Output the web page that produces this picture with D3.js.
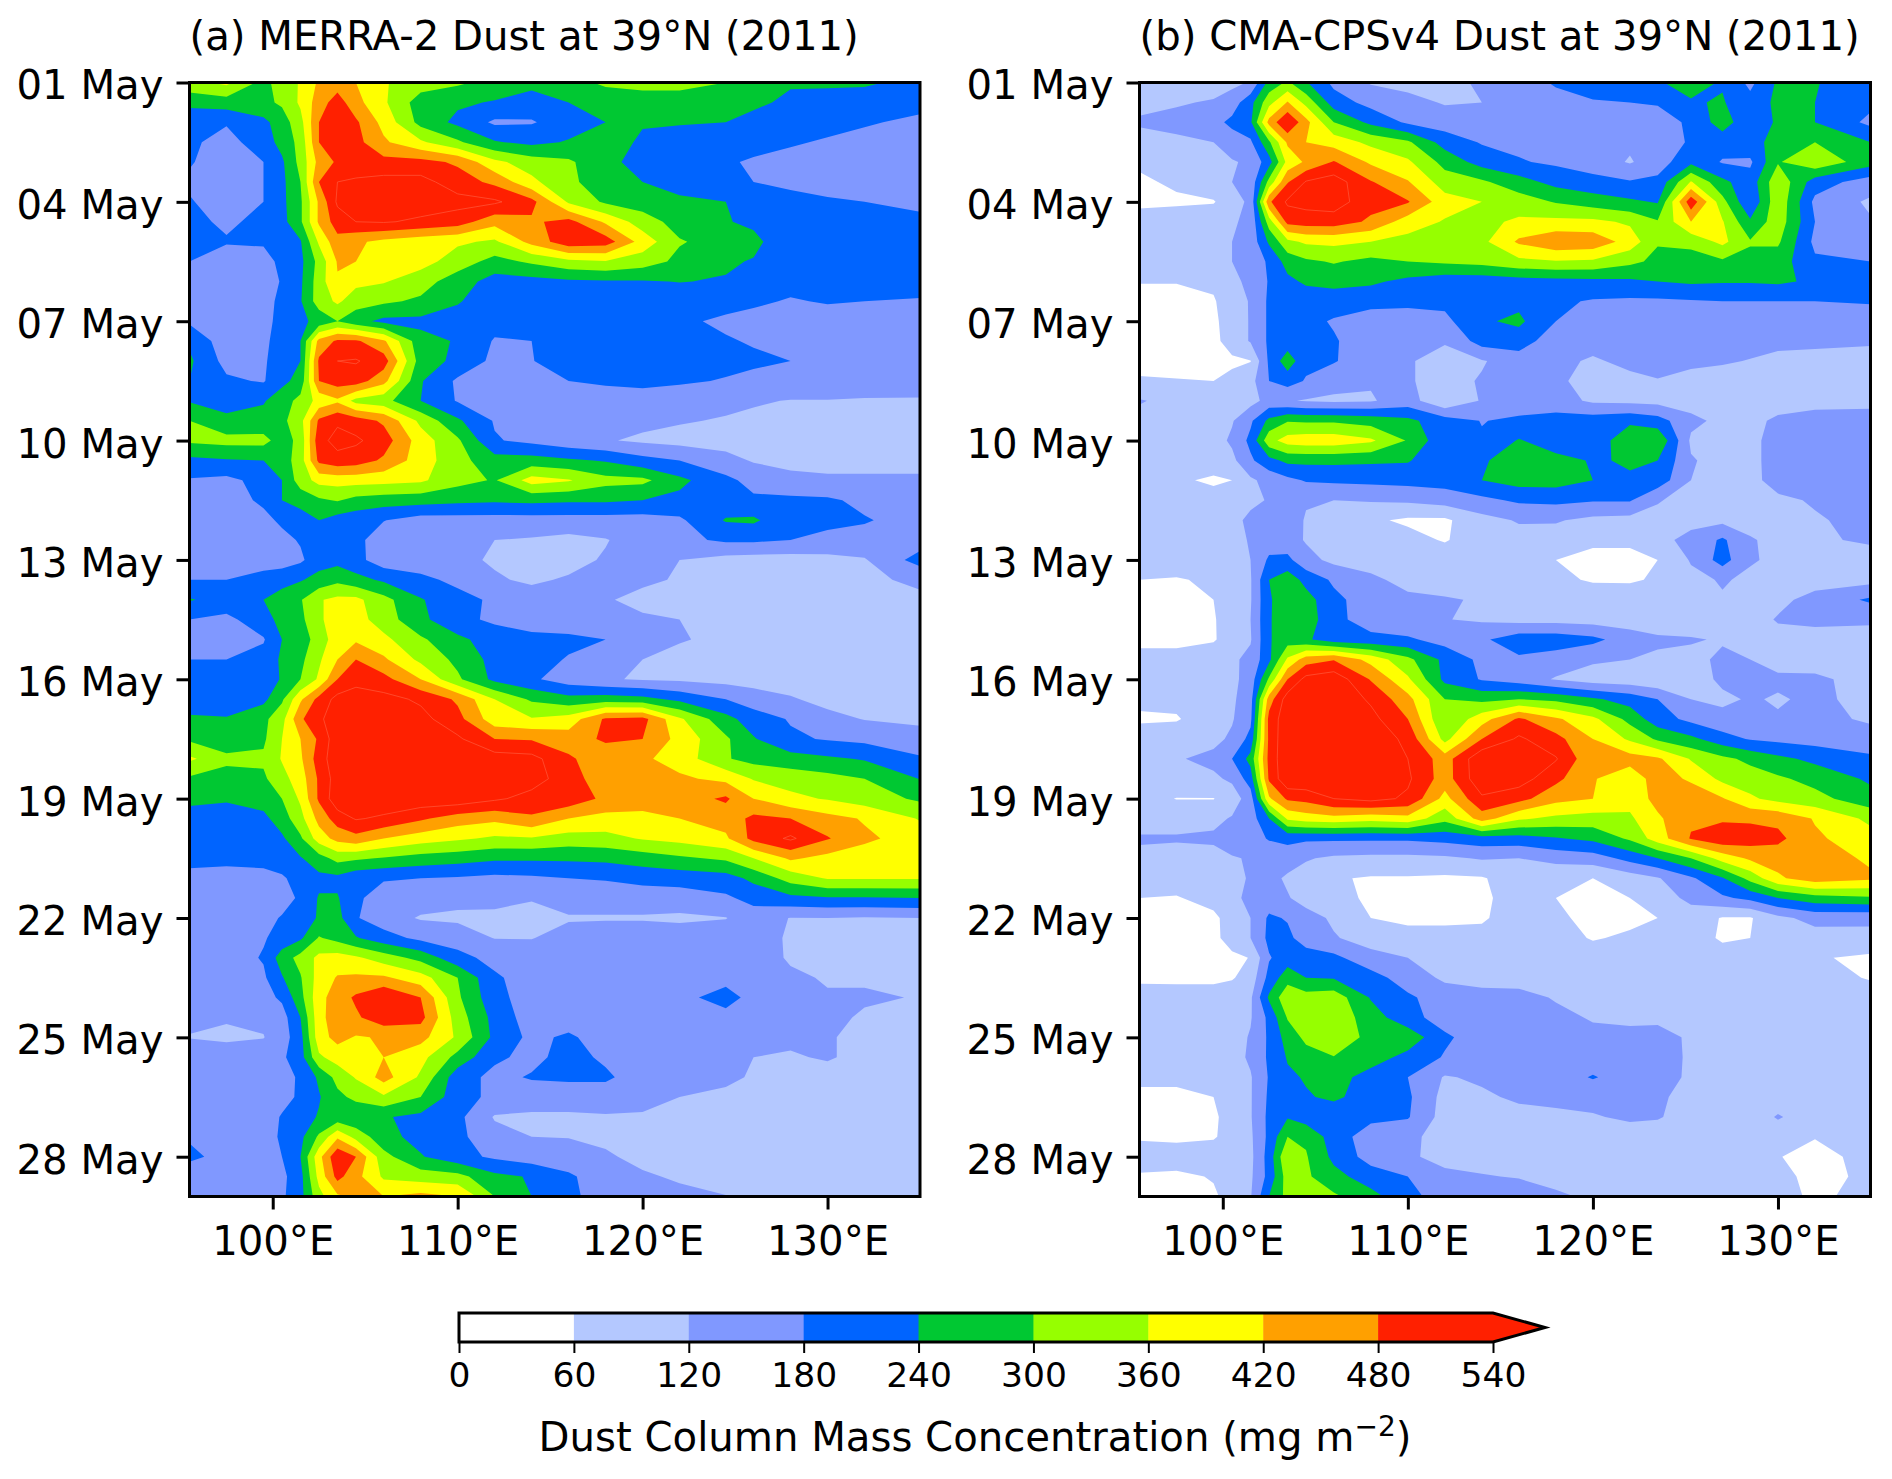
<!DOCTYPE html>
<html><head><meta charset="utf-8">
<script src="https://cdn.jsdelivr.net/npm/d3@7/dist/d3.min.js"></script>
<style>html,body{margin:0;padding:0;background:#fff}svg{display:block}text{font-family:"DejaVu Sans",sans-serif;fill:#000}</style>
</head><body><svg id="c" width="1892" height="1479"></svg>
<script>
const levels=[0,60,120,180,240,300,360,420,480,540];
const bandColors=["#ffffff","#b4c8ff","#8098ff","#0064ff","#00c832","#96ff00","#ffff00","#ffa000","#ff2000"];
const dateTicks=[0,3,6,9,12,15,18,21,24,27];
const lonTicks=[100,110,120,130];
const cbTicks=[0,60,120,180,240,300,360,420,480,540];
const titleA="(a) MERRA-2 Dust at 39°N (2011)", titleB="(b) CMA-CPSv4 Dust at 39°N (2011)";
const lonsA=[95.5,97.5,99.5,100.5,101.5,102.5,103.5,104.5,106,108,110,112,114,116,118,120,122,124.5,126,128,130,132,135];
const lonsB=[95.5,97.5,99.5,100.5,101.5,102.5,103.5,104.5,106,108,110,112,114,116,118,120,122,123.5,125.3,127,128.5,130,132,135];
const rowsA=[
[340,375,280,330,365,430,450,420,365,330,310,280,260,280,310,320,320,300,270,245,250,250,220],
[260,270,285,310,370,450,510,440,370,270,250,235,210,240,265,270,270,265,250,230,215,205,195],
[190,185,225,270,340,480,530,490,400,280,225,170,175,210,240,245,245,240,225,205,195,185,170],
[190,160,210,260,320,480,520,500,430,370,310,245,225,245,270,230,210,205,195,185,175,165,150],
[185,150,180,230,320,440,490,520,500,500,470,375,330,310,255,220,205,185,175,165,155,150,145],
[170,150,180,225,300,480,540,545,560,560,510,465,375,310,275,240,220,200,180,170,165,160,150],
[185,150,180,225,290,430,550,560,570,570,560,550,500,350,290,270,250,240,215,195,185,180,170],
[195,170,195,220,290,430,510,540,545,530,510,440,470,500,410,330,275,245,225,215,200,190,190],
[190,185,185,220,235,370,460,430,405,385,370,350,440,520,510,395,305,275,260,185,180,180,180],
[180,150,165,190,225,320,425,420,405,385,330,280,310,345,355,330,285,250,235,195,185,185,185],
[180,150,150,185,230,330,415,375,365,325,270,215,220,230,235,235,242,235,210,200,195,190,190],
[175,150,165,190,235,330,370,330,310,290,245,205,205,200,200,200,200,200,190,175,185,180,178],
[170,145,170,190,225,260,300,260,225,225,215,200,200,200,200,200,190,170,160,155,150,150,150],
[230,145,175,190,240,440,490,490,430,260,235,175,180,200,200,200,195,185,175,165,160,155,150],
[250,160,175,200,240,490,540,545,510,270,225,165,178,205,210,205,205,200,190,180,178,165,150],
[240,190,175,225,260,480,510,510,440,245,170,150,170,180,190,200,190,175,165,160,155,150,145],
[235,215,235,270,320,380,410,340,320,240,175,150,150,150,148,145,140,135,125,118,118,115,115],
[300,255,260,285,340,490,530,510,470,345,250,175,160,150,140,135,125,115,110,105,105,105,105],
[310,320,320,270,320,520,560,550,510,390,310,185,165,140,125,110,100,95,95,95,95,95,95],
[225,235,240,270,330,495,520,510,470,390,320,265,265,250,235,200,180,140,115,110,110,110,110],
[175,165,200,240,330,380,385,385,380,370,320,295,385,365,320,315,255,195,160,130,125,125,125],
[160,155,190,240,260,290,305,280,270,265,255,250,255,250,250,240,225,205,190,195,190,165,125],
[150,150,165,190,215,240,215,205,182,155,155,155,155,155,155,155,170,245,250,195,190,185,155],
[145,150,150,165,185,205,205,195,150,150,150,120,115,105,117,145,165,190,190,180,170,160,150],
[150,150,150,150,170,215,220,200,145,145,130,115,110,105,125,150,120,100,95,95,100,115,205],
[180,180,205,220,235,260,285,260,230,195,165,125,113,125,135,130,115,100,95,95,100,115,125],
[245,215,240,265,295,355,375,375,320,245,200,170,140,135,125,105,100,95,95,95,95,100,115],
[180,165,215,260,285,350,390,385,330,255,195,170,155,140,135,128,120,100,95,95,95,95,100],
[165,145,175,240,265,330,390,410,375,310,255,210,195,195,180,165,125,105,100,100,100,100,100],
[180,180,200,250,285,350,420,480,430,345,285,220,205,175,155,120,100,95,95,95,95,95,95],
[205,195,210,245,300,370,480,520,500,420,310,225,190,150,125,115,110,100,95,95,95,95,95],
[205,200,225,290,410,500,560,570,560,530,470,360,290,260,270,260,225,180,150,125,105,95,95],
[250,245,285,340,470,530,570,580,570,560,500,385,365,385,490,500,370,260,210,175,135,118,115],
[290,250,290,360,420,490,580,590,590,580,550,480,475,450,490,480,400,310,245,190,175,165,130],
[370,320,310,365,410,510,580,590,590,590,580,570,560,490,440,430,395,305,280,265,250,235,190],
[290,265,290,340,390,490,570,580,580,580,580,580,565,510,440,435,430,405,355,335,320,300,238],
[255,250,265,300,370,490,580,580,580,580,580,550,520,520,465,445,450,490,420,375,355,330,290],
[215,200,225,270,340,440,510,545,530,490,450,435,470,420,400,405,420,445,495,480,440,415,355],
[195,195,200,230,290,390,440,460,420,390,370,350,355,335,340,365,380,410,500,550,485,430,395],
[190,190,190,200,235,275,320,310,295,275,265,250,250,250,255,270,290,310,360,430,400,395,390],
[170,165,170,175,195,225,225,195,185,180,175,165,170,180,185,200,205,215,255,325,365,365,365],
[150,150,150,155,190,245,245,190,155,145,135,130,122,145,145,145,150,170,200,225,235,235,240],
[150,150,160,185,215,245,260,185,145,115,110,112,110,115,115,115,110,118,150,118,120,115,120],
[150,150,175,200,230,305,280,245,205,165,150,118,118,140,150,150,150,150,155,110,105,105,105],
[150,150,185,270,320,375,385,370,330,280,200,160,150,150,150,150,150,150,150,113,110,110,110],
[145,150,170,235,295,385,425,430,430,385,300,190,150,145,150,150,150,150,150,130,115,115,110],
[140,145,160,190,280,400,450,490,540,480,310,200,150,150,150,150,155,215,150,135,125,125,118],
[130,125,130,155,240,400,455,470,520,500,330,220,150,150,150,150,150,150,150,150,130,115,110],
[118,110,118,150,220,395,440,415,425,440,350,225,165,190,150,150,150,150,125,130,125,105,105],
[150,150,150,170,215,350,385,395,420,380,280,190,165,200,170,150,145,140,120,115,125,105,105],
[150,150,150,155,190,250,320,365,445,350,205,165,185,190,190,150,145,130,115,105,100,100,100],
[150,150,150,160,190,235,285,315,350,300,205,165,150,150,150,150,120,110,100,95,95,95,95],
[170,150,150,185,215,245,260,250,245,225,195,115,110,110,115,110,100,95,95,95,95,95,95],
[175,155,150,190,225,310,410,340,260,220,195,140,120,118,112,105,95,95,95,95,95,95,95],
[190,165,150,180,240,400,530,480,320,245,200,170,150,145,125,110,95,95,95,95,95,95,95],
[150,150,150,165,220,380,500,440,350,330,320,255,235,190,145,125,115,95,95,95,95,95,95],
[150,150,150,170,220,340,410,430,420,440,420,300,240,195,150,140,130,122,120,115,110,105,105]
];
const rowsB=[
[65,85,95,105,125,260,310,245,165,115,100,100,130,160,185,210,222,235,260,235,165,250,245,190],
[110,115,125,150,220,340,425,340,210,160,140,115,120,150,165,175,180,185,235,245,200,255,240,195],
[125,135,160,195,230,440,540,440,300,225,170,150,150,145,120,145,150,155,190,270,195,250,240,165],
[105,110,120,150,170,290,430,420,395,345,310,215,175,165,150,140,130,135,190,205,220,260,300,240],
[70,85,105,115,130,215,380,430,485,410,370,280,215,185,170,150,115,150,225,175,170,295,345,265],
[50,70,105,120,135,320,475,545,570,485,425,330,310,265,220,200,185,195,365,255,205,345,210,150],
[45,50,55,100,130,470,550,560,570,500,485,385,360,330,295,270,250,235,520,320,185,345,165,110],
[90,95,105,115,130,330,500,510,510,470,390,355,345,370,375,375,350,305,420,365,250,335,180,125],
[100,105,110,120,140,250,345,370,375,360,340,330,345,430,470,460,395,305,320,375,305,310,165,122],
[100,105,110,120,140,190,265,290,305,285,300,310,320,345,355,350,315,285,270,290,285,270,190,180],
[62,62,70,110,130,185,225,250,260,250,225,205,205,215,220,225,230,240,250,245,245,250,230,200],
[45,45,55,90,125,190,235,205,205,200,195,195,215,225,190,175,170,170,175,180,180,180,180,185],
[40,40,50,85,125,190,190,195,175,150,150,165,232,252,180,165,155,150,150,150,150,150,150,150],
[40,40,45,85,125,190,205,205,185,150,125,125,205,210,145,135,135,135,135,135,135,135,130,125],
[45,45,45,50,58,190,275,195,185,140,125,100,115,150,130,115,130,135,130,125,118,105,105,105],
[65,62,60,75,100,180,205,175,140,125,125,100,125,150,130,100,110,118,105,100,95,95,95,95],
[125,100,90,90,100,140,125,115,110,115,145,70,125,150,145,110,105,100,95,95,95,95,95,100],
[100,95,95,115,170,255,295,290,290,275,255,205,178,190,205,210,225,205,135,105,105,130,150,150],
[100,95,95,130,195,340,385,395,395,370,295,195,185,245,205,190,295,295,110,100,100,150,160,150],
[100,95,90,105,170,220,255,255,255,250,245,195,235,260,260,235,245,240,125,100,100,150,165,160],
[90,70,50,60,110,140,165,185,190,195,200,205,240,265,265,240,235,215,120,105,105,140,150,150],
[100,95,85,90,105,125,140,125,120,125,130,145,165,190,195,185,185,125,95,90,105,110,125,125],
[100,95,95,100,135,150,150,115,100,70,50,50,100,125,125,105,100,100,105,105,100,100,115,135],
[95,95,90,100,125,150,145,115,100,85,80,55,95,100,95,70,70,105,135,190,125,105,115,125],
[100,95,90,100,120,190,195,140,105,100,90,95,95,100,60,45,45,60,125,205,125,110,105,105],
[60,55,70,95,115,240,275,220,170,130,105,95,90,85,70,55,55,65,105,125,110,100,95,100],
[40,40,60,90,115,235,265,265,195,150,130,125,115,100,95,90,85,85,95,115,110,105,140,190],
[40,40,55,90,120,235,270,275,195,155,130,122,112,100,100,95,90,85,85,85,95,125,135,130],
[40,40,55,85,115,235,270,250,205,195,190,155,170,215,215,195,150,130,125,115,110,100,95,95],
[85,85,90,110,135,225,370,450,475,400,315,225,165,170,150,130,120,110,105,130,120,100,95,95],
[85,85,90,105,145,310,480,560,580,475,370,225,175,150,115,90,85,72,95,130,135,130,130,100],
[75,75,90,110,155,450,570,585,590,530,440,300,285,300,285,250,215,180,120,110,125,115,130,105],
[50,55,95,115,165,500,580,590,590,560,480,300,395,490,430,375,280,205,165,135,125,125,130,115],
[95,95,105,130,200,495,590,590,590,580,525,340,480,550,500,420,350,290,255,205,175,165,155,135],
[110,115,135,180,260,500,590,590,590,590,540,450,590,590,545,430,445,430,355,315,285,255,225,195],
[100,105,110,130,210,490,590,590,590,590,550,450,585,570,495,425,380,450,410,345,330,310,280,230],
[85,58,58,90,150,410,490,500,540,560,530,400,530,500,440,420,380,440,460,425,370,340,320,262],
[100,100,105,125,150,240,370,390,400,385,400,320,450,370,345,335,350,410,470,470,470,465,415,345],
[125,125,130,150,155,185,195,190,190,190,190,200,215,215,235,255,310,390,485,525,510,495,430,385],
[110,100,100,115,125,140,150,125,110,105,105,110,125,120,140,150,200,240,300,385,430,445,450,410],
[105,95,95,105,125,140,110,95,65,55,55,50,55,90,70,60,90,115,170,235,320,410,455,430],
[60,55,85,110,130,145,125,95,70,55,50,45,45,95,60,50,60,100,130,170,195,240,275,290],
[45,45,45,90,120,190,175,145,110,60,45,45,50,100,70,45,45,60,100,55,55,105,140,135],
[40,40,45,85,120,195,195,150,125,95,85,85,85,95,85,55,70,95,95,50,60,95,95,100],
[40,40,42,48,62,175,210,210,195,140,120,95,90,90,90,90,90,90,90,90,90,85,65,50],
[45,45,45,55,85,200,275,240,235,205,150,110,100,95,90,90,90,90,90,90,90,90,85,55],
[95,90,90,95,110,250,345,325,335,235,190,150,140,140,115,95,90,90,90,90,90,90,90,90],
[90,90,90,95,115,195,305,325,340,270,200,155,140,145,135,115,105,105,95,90,90,90,90,90],
[90,90,90,95,125,190,265,315,335,285,280,190,150,140,125,135,140,145,110,90,90,90,90,90],
[90,90,90,95,130,190,245,275,298,270,220,175,150,150,150,145,150,150,110,90,90,90,90,90],
[70,75,90,95,115,185,230,245,265,215,180,115,130,150,150,185,150,145,110,90,90,90,90,90],
[50,45,60,90,115,190,205,235,250,215,190,100,110,130,145,140,135,130,100,90,90,90,90,90],
[50,45,50,85,115,195,235,210,205,195,185,95,95,100,100,115,130,125,95,90,90,125,90,90],
[50,45,55,80,110,195,300,290,210,150,135,95,90,90,90,90,90,90,90,90,90,90,62,90],
[100,95,90,85,105,205,360,305,225,155,130,100,90,90,90,90,90,90,90,90,90,62,45,75],
[50,45,65,90,110,200,330,310,260,210,180,135,125,115,100,90,90,90,90,90,90,75,45,70],
[45,40,50,85,115,240,320,325,310,260,200,150,172,165,130,110,90,90,90,90,90,90,45,85]
];

const svg=d3.select("#c");
const top_=82.5,bottom_=1196.5;
const FS=40.2;
function panel(id,left,right,lons,rows,title){
  const x=d3.scaleLinear().domain([95.5,135]).range([left,right]);
  const y=d3.scaleUtc().domain([new Date(Date.UTC(2011,4,1)),new Date(Date.UTC(2011,4,29))]).range([top_,bottom_]);
  const dayY=d=>y(new Date(Date.UTC(2011,4,1)+d*864e5));
  const nx=lons.length,ny=rows.length;
  const ix=d3.scaleLinear().domain(d3.range(nx)).range(lons).clamp(true);
  const iy=d3.scaleLinear().domain([0,ny-1]).range([0,(ny-1)/2]).clamp(true);
  const path=d3.geoPath(d3.geoTransform({point(a,b){this.stream.point(x(ix(a-.5)),dayY(iy(b-.5)));}}));
  const cont=d3.contours().size([nx,ny]).thresholds(levels)(rows.flat());
  svg.append("clipPath").attr("id",id).append("rect").attr("x",left).attr("y",top_).attr("width",right-left).attr("height",bottom_-top_);
  const g=svg.append("g").attr("clip-path",`url(#${id})`);
  g.append("rect").attr("x",left).attr("y",top_).attr("width",right-left).attr("height",bottom_-top_).attr("fill",bandColors[0]);
  g.selectAll("path").data(cont).join("path").attr("d",path)
    .attr("fill",(d,i)=>bandColors[Math.min(i,bandColors.length-1)])
    .attr("stroke",(d,i)=>i>=9?"#ff5a3c":"none").attr("stroke-width",0.7);
  const ax=d3.axisLeft(y).tickValues(dateTicks.map(d=>new Date(Date.UTC(2011,4,1+d)))).tickFormat(d3.utcFormat("%d %b")).tickSize(13).tickPadding(13);
  const gy=svg.append("g").attr("transform",`translate(${left},0)`).call(ax);
  const bx=d3.axisBottom(x).tickValues(lonTicks).tickFormat(d=>d+"°E").tickSize(13).tickPadding(17);
  const gx=svg.append("g").attr("transform",`translate(0,${bottom_})`).call(bx);
  for(const a of [gy,gx]){a.select(".domain").remove();a.selectAll("line").attr("stroke","#000").attr("stroke-width",3);a.selectAll("text").style("font-size",FS+"px").style("font-family",'"DejaVu Sans"');}
  gy.selectAll("text").attr("dy","0.41em");
  svg.append("rect").attr("x",left).attr("y",top_).attr("width",right-left).attr("height",bottom_-top_).attr("fill","none").attr("stroke","#000").attr("stroke-width",3);
  svg.append("text").attr("x",left).attr("y",50).attr("text-anchor","start").style("font-size","40.2px").text(title);
}
panel("pa",189.5,920,lonsA,rowsA,titleA);
panel("pb",1139.5,1870.5,lonsB,rowsB,titleB);

// colour bar
const cx=d3.scaleLinear().domain([0,540]).range([459,1493]);
const cTop=1313,cBot=1342,cTip=1545;
const cb=svg.append("g");
cb.selectAll("rect").data(d3.range(9)).join("rect").attr("x",i=>cx(levels[i])).attr("y",cTop).attr("width",i=>cx(levels[i+1])-cx(levels[i])+.5).attr("height",cBot-cTop).attr("fill",i=>bandColors[i]);
cb.append("path").attr("d",`M${cx(540)},${cTop}L${cTip},${(cTop+cBot)/2}L${cx(540)},${cBot}Z`).attr("fill",bandColors[8]);
cb.append("path").attr("d",`M${cx(0)},${cTop}H${cx(540)}L${cTip},${(cTop+cBot)/2}L${cx(540)},${cBot}H${cx(0)}Z`).attr("fill","none").attr("stroke","#000").attr("stroke-width",3);
const ca=d3.axisBottom(cx).tickValues(cbTicks).tickFormat(d3.format("d")).tickSize(11).tickPadding(10);
const gc=svg.append("g").attr("transform",`translate(0,${cBot})`).call(ca);
gc.select(".domain").remove();gc.selectAll("line").attr("stroke","#000").attr("stroke-width",2);
gc.selectAll("text").style("font-size","34.5px").style("font-family",'"DejaVu Sans"');
const lab=svg.append("text").attr("x",975).attr("y",1451).attr("text-anchor","middle").style("font-size","40.2px");
lab.append("tspan").text("Dust Column Mass Concentration (mg m");
lab.append("tspan").attr("dy",-15).style("font-size","28px").text("−2");
lab.append("tspan").attr("dy",15).text(")");
</script></body></html>
